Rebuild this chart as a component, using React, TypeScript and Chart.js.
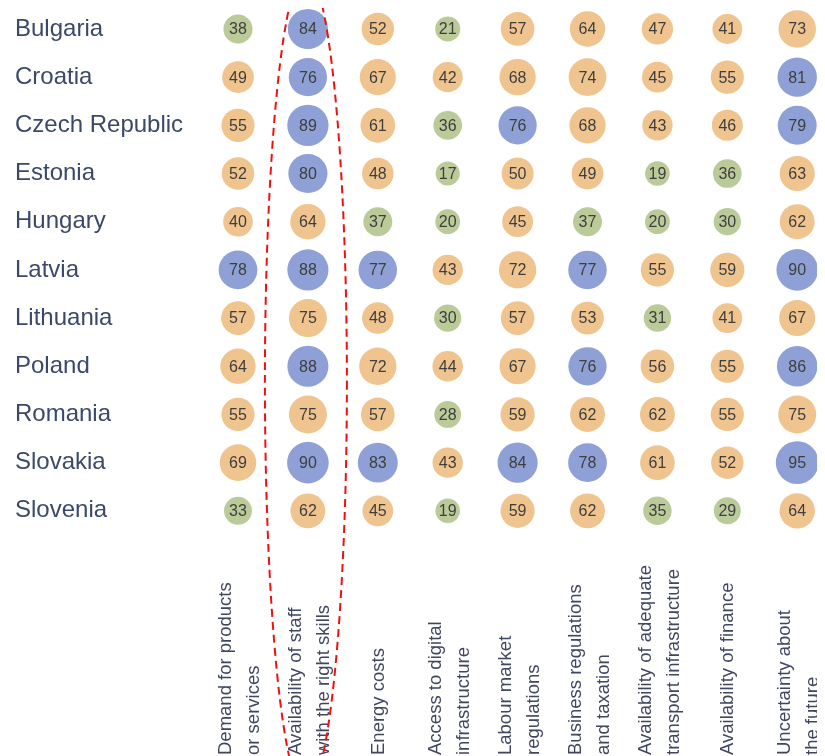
import { useEffect, useRef } from "react";
import { Chart, registerables } from "chart.js";

Chart.register(...registerables);

const countries = [
  "Bulgaria",
  "Croatia",
  "Czech Republic",
  "Estonia",
  "Hungary",
  "Latvia",
  "Lithuania",
  "Poland",
  "Romania",
  "Slovakia",
  "Slovenia",
];

const factors: string[][] = [
  ["Demand for products", "or services"],
  ["Availability of staff", "with the right skills"],
  ["Energy costs"],
  ["Access to digital", "infrastructure"],
  ["Labour market", "regulations"],
  ["Business regulations", "and taxation"],
  ["Availability of adequate", "transport infrastructure"],
  ["Availability of finance"],
  ["Uncertainty about", "the future"],
];

const bulgaria = [38, 84, 52, 21, 57, 64, 47, 41, 73];
const croatia = [49, 76, 67, 42, 68, 74, 45, 55, 81];
const czechRepublic = [55, 89, 61, 36, 76, 68, 43, 46, 79];
const estonia = [52, 80, 48, 17, 50, 49, 19, 36, 63];
const hungary = [40, 64, 37, 20, 45, 37, 20, 30, 62];
const latvia = [78, 88, 77, 43, 72, 77, 55, 59, 90];
const lithuania = [57, 75, 48, 30, 57, 53, 31, 41, 67];
const poland = [64, 88, 72, 44, 67, 76, 56, 55, 86];
const romania = [55, 75, 57, 28, 59, 62, 62, 55, 75];
const slovakia = [69, 90, 83, 43, 84, 78, 61, 52, 95];
const slovenia = [33, 62, 45, 19, 59, 62, 35, 29, 64];

const values = [
  bulgaria,
  croatia,
  czechRepublic,
  estonia,
  hungary,
  latvia,
  lithuania,
  poland,
  romania,
  slovakia,
  slovenia,
];

const BLUE = "#8ea0d6";
const ORANGE = "#f0c48e";
const GREEN = "#bbca99";
const FONT = '"Liberation Sans", Arial, sans-serif';

function colorFor(v: number) {
  if (v > 75) return BLUE;
  if (v >= 40) return ORANGE;
  return GREEN;
}

function radiusFor(v: number) {
  return 10 + 0.12 * v;
}

const labelPlugin = {
  id: "labelPlugin",
  afterDatasetsDraw(chart: any) {
    const ctx = chart.ctx as CanvasRenderingContext2D;
    const meta = chart.getDatasetMeta(0);
    const ds = chart.data.datasets[0].data as any[];
    ctx.save();
    ctx.fillStyle = "#3e3e3e";
    ctx.font = `16px ${FONT}`;
    ctx.textAlign = "center";
    ctx.textBaseline = "middle";
    meta.data.forEach((el: any, i: number) => {
      ctx.fillText(String(ds[i].v), el.x, el.y + 1);
    });
    ctx.restore();

    // rotated category labels
    const xScale = chart.scales.x;
    ctx.save();
    ctx.fillStyle = "#3f4660";
    ctx.font = `18.5px ${FONT}`;
    ctx.textAlign = "left";
    ctx.textBaseline = "middle";
    const startY = chart.height - 1;
    factors.forEach((lines, i) => {
      const cx = xScale.getPixelForValue(i);
      const offs = lines.length === 2 ? [-12, 16] : [1];
      lines.forEach((line, j) => {
        ctx.save();
        ctx.translate(cx + offs[j], startY);
        ctx.rotate(-Math.PI / 2);
        ctx.fillText(line, 0, 0);
        ctx.restore();
      });
    });
    ctx.restore();

    // red dashed ellipse highlighting the skills column
    ctx.save();
    ctx.strokeStyle = "#f01010";
    ctx.lineWidth = 2;
    ctx.setLineDash([8, 5]);
    ctx.beginPath();
    ctx.ellipse(
      xScale.getPixelForValue(1) - 2,
      chart.height / 2,
      41,
      410,
      0,
      0,
      Math.PI * 2
    );
    ctx.stroke();
    ctx.restore();
  },
};

export default function App() {
  const ref = useRef<HTMLCanvasElement>(null);
  useEffect(() => {
    if (!ref.current) return;
    const points: { x: number; y: number; v: number }[] = [];
    values.forEach((row, r) =>
      row.forEach((v, c) => points.push({ x: c, y: r, v }))
    );
    const chart = new Chart(ref.current, {
      type: "scatter",
      data: {
        datasets: [
          {
            data: points as any,
            backgroundColor: (c: any) => colorFor(c.raw ? c.raw.v : 0),
            borderWidth: 0,
            pointRadius: (c: any) => radiusFor(c.raw ? c.raw.v : 0),
            pointHoverRadius: (c: any) => radiusFor(c.raw ? c.raw.v : 0),
            clip: false as any,
          },
        ],
      },
      options: {
        responsive: false,
        animation: false,
        events: [],
        layout: {
          autoPadding: false,
          padding: { left: 7, right: 8, top: 0, bottom: 210 },
        },
        plugins: {
          legend: { display: false },
          tooltip: { enabled: false },
        },
        scales: {
          x: { type: "linear", min: -0.472, max: 8.283, display: false },
          y: {
            type: "linear",
            reverse: true,
            min: -0.41,
            max: 10.73,
            grid: { display: false },
            border: { display: false },
            afterBuildTicks: (s: any) => {
              s.ticks = countries.map((_, i) => ({ value: i }));
            },
            afterFit: (s: any) => {
              s.width = 190;
            },
            ticks: {
              autoSkip: false,
              crossAlign: "far",
              padding: 0,
              color: "#3b4869",
              font: { family: FONT, size: 24, lineHeight: 0.1 },
              callback: (v: any) => countries[v as number] ?? "",
            },
          },
        },
      },
      plugins: [labelPlugin],
    });
    return () => chart.destroy();
  }, []);
  return (
    <canvas
      ref={ref}
      width={817}
      height={748}
      style={{ display: "block", width: 817, height: 748 }}
    />
  );
}
